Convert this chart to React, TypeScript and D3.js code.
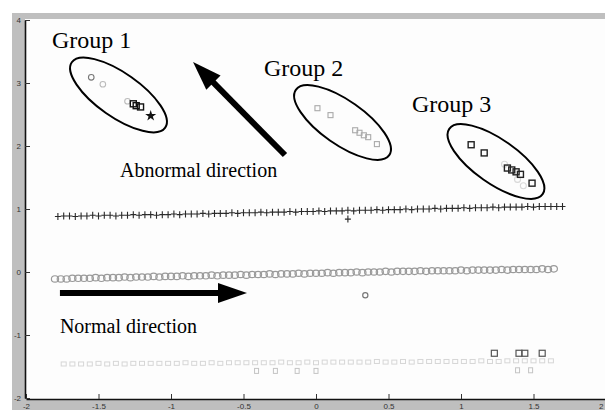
import React, { useEffect, useRef } from 'react'
import * as d3 from 'd3'

const WIDTH = 605
const HEIGHT = 410

const xTicks = [-2, -1.5, -1, -0.5, 0, 0.5, 1, 1.5, 2]
const yTicks = [-2, -1, 0, 1, 2, 3, 4]

// upper track, "+" markers
const plusTrack: [number, number][] = [
  [-1.78, 0.88], [-1.74, 0.89], [-1.7, 0.89], [-1.66, 0.88], [-1.62, 0.89], [-1.58, 0.89], [-1.54, 0.9], [-1.5, 0.89],
  [-1.46, 0.9], [-1.42, 0.9], [-1.38, 0.89], [-1.34, 0.9], [-1.3, 0.9], [-1.26, 0.91], [-1.22, 0.9], [-1.18, 0.91],
  [-1.14, 0.91], [-1.1, 0.9], [-1.06, 0.91], [-1.02, 0.91], [-0.98, 0.92], [-0.94, 0.91], [-0.9, 0.92], [-0.86, 0.92],
  [-0.82, 0.92], [-0.78, 0.93], [-0.74, 0.92], [-0.7, 0.93], [-0.66, 0.93], [-0.62, 0.93], [-0.58, 0.94], [-0.54, 0.93],
  [-0.5, 0.94], [-0.46, 0.94], [-0.42, 0.94], [-0.38, 0.95], [-0.34, 0.94], [-0.3, 0.95], [-0.26, 0.95], [-0.22, 0.95],
  [-0.18, 0.96], [-0.14, 0.95], [-0.1, 0.96], [-0.06, 0.96], [-0.02, 0.96], [0.02, 0.97], [0.06, 0.96], [0.1, 0.97],
  [0.14, 0.97], [0.18, 0.97], [0.22, 0.98], [0.26, 0.97], [0.3, 0.98], [0.34, 0.98], [0.38, 0.98], [0.42, 0.99],
  [0.46, 0.98], [0.5, 0.99], [0.54, 0.99], [0.58, 0.99], [0.62, 1.0], [0.66, 0.99], [0.7, 1.0], [0.74, 1.0],
  [0.78, 1.0], [0.82, 1.01], [0.86, 1.0], [0.9, 1.01], [0.94, 1.01], [0.98, 1.01], [1.02, 1.02], [1.06, 1.01],
  [1.1, 1.02], [1.14, 1.02], [1.18, 1.02], [1.22, 1.03], [1.26, 1.02], [1.3, 1.03], [1.34, 1.03], [1.38, 1.03],
  [1.42, 1.03], [1.46, 1.04], [1.5, 1.03], [1.54, 1.04], [1.58, 1.04], [1.62, 1.04], [1.66, 1.04], [1.7, 1.04],
]
const strayPlus: [number, number][] = [[0.22, 0.84]]

// middle track, gray circles
const circleTrack: [number, number][] = [
  [-1.8, -0.11], [-1.76, -0.11], [-1.72, -0.11], [-1.68, -0.1], [-1.64, -0.1], [-1.6, -0.1], [-1.56, -0.1], [-1.52, -0.09],
  [-1.48, -0.1], [-1.44, -0.09], [-1.4, -0.09], [-1.36, -0.09], [-1.32, -0.08], [-1.28, -0.09], [-1.24, -0.08], [-1.2, -0.08],
  [-1.16, -0.08], [-1.12, -0.07], [-1.08, -0.08], [-1.04, -0.07], [-1.0, -0.07], [-0.96, -0.07], [-0.92, -0.06], [-0.88, -0.07],
  [-0.84, -0.06], [-0.8, -0.06], [-0.76, -0.06], [-0.72, -0.05], [-0.68, -0.06], [-0.64, -0.05], [-0.6, -0.05], [-0.56, -0.05],
  [-0.52, -0.04], [-0.48, -0.05], [-0.44, -0.04], [-0.4, -0.04], [-0.36, -0.04], [-0.32, -0.03], [-0.28, -0.04], [-0.24, -0.03],
  [-0.2, -0.03], [-0.16, -0.03], [-0.12, -0.02], [-0.08, -0.03], [-0.04, -0.02], [0.0, -0.02], [0.04, -0.02], [0.08, -0.01],
  [0.12, -0.02], [0.16, -0.01], [0.2, -0.01], [0.24, -0.01], [0.28, 0.0], [0.32, -0.01], [0.36, 0.0], [0.4, 0.0],
  [0.44, 0.0], [0.48, 0.01], [0.52, 0.0], [0.56, 0.01], [0.6, 0.01], [0.64, 0.01], [0.68, 0.01], [0.72, 0.02],
  [0.76, 0.01], [0.8, 0.02], [0.84, 0.02], [0.88, 0.02], [0.92, 0.02], [0.96, 0.02], [1.0, 0.03], [1.04, 0.02],
  [1.08, 0.03], [1.12, 0.03], [1.16, 0.03], [1.2, 0.03], [1.24, 0.03], [1.28, 0.04], [1.32, 0.03], [1.36, 0.04],
  [1.4, 0.04], [1.44, 0.04], [1.48, 0.04], [1.52, 0.04], [1.56, 0.05], [1.6, 0.04], [1.64, 0.05],
]

// lower track, faint squares
const squareTrack: [number, number][] = [
  [-1.74, -1.46], [-1.68, -1.46], [-1.62, -1.46], [-1.56, -1.46], [-1.5, -1.45], [-1.44, -1.46], [-1.38, -1.45], [-1.32, -1.46],
  [-1.26, -1.45], [-1.2, -1.45], [-1.14, -1.45], [-1.08, -1.45], [-1.02, -1.45], [-0.96, -1.45], [-0.9, -1.44], [-0.84, -1.45],
  [-0.78, -1.45], [-0.72, -1.44], [-0.66, -1.45], [-0.6, -1.44], [-0.54, -1.44], [-0.48, -1.44], [-0.42, -1.44], [-0.36, -1.44],
  [-0.3, -1.44], [-0.24, -1.43], [-0.18, -1.44], [-0.12, -1.44], [-0.06, -1.43], [0.0, -1.44], [0.06, -1.43], [0.12, -1.43],
  [0.18, -1.43], [0.24, -1.43], [0.3, -1.43], [0.36, -1.43], [0.42, -1.42], [0.48, -1.43], [0.54, -1.43], [0.6, -1.42],
  [0.66, -1.43], [0.72, -1.42], [0.78, -1.42], [0.84, -1.42], [0.9, -1.42], [0.96, -1.42], [1.02, -1.42], [1.08, -1.42],
  [1.14, -1.41], [1.2, -1.42], [1.26, -1.42], [1.32, -1.41], [1.38, -1.41], [1.44, -1.41], [1.5, -1.41], [1.56, -1.41],
  [1.62, -1.41],
]

// abnormal groups
const group1Gray: [number, number][] = [[-1.55, 3.09], [-1.47, 2.98], [-1.3, 2.71]]
const group1Black: [number, number][] = [[-1.26, 2.67], [-1.24, 2.64], [-1.21, 2.62]]
const group1Star: [number, number][] = [[-1.14, 2.48]]
const group2Points: [number, number][] = [[0.01, 2.6], [0.1, 2.49], [0.27, 2.25], [0.3, 2.21], [0.33, 2.17], [0.36, 2.14], [0.42, 2.03]]
const group3Squares: [number, number][] = [[1.07, 2.02], [1.16, 1.89], [1.32, 1.65], [1.35, 1.62], [1.38, 1.59], [1.41, 1.55], [1.49, 1.41]]
const group3Faint: [number, number][] = [[1.3, 1.71], [1.39, 1.47], [1.43, 1.37]]

// points near the lower tracks
const lowCircle: [number, number][] = [[0.34, -0.37]]
const lowSquares: [number, number][] = [[1.23, -1.29], [1.4, -1.29], [1.44, -1.29], [1.56, -1.29]]
const lowFaint: [number, number][] = [[-0.41, -1.57], [-0.28, -1.57], [-0.13, -1.57], [0.0, -1.57], [1.39, -1.56], [1.48, -1.56]]

// annotations (data coordinates)
const groupEllipses = [
  { cx: -1.362, cy: 2.81 },
  { cx: 0.183, cy: 2.373 },
  { cx: 1.241, cy: 1.754 },
]
const groupLabels = [
  { text: 'Group 1', x: -1.821, y: 3.556 },
  { text: 'Group 2', x: -0.359, y: 3.111 },
  { text: 'Group 3', x: 0.662, y: 2.54 },
]
const directionLabels = [
  { text: 'Abnormal direction', x: -1.352, y: 1.508 },
  { text: 'Normal direction', x: -1.766, y: -0.968 },
]
const arrows = [
  { from: [-0.214, 1.857], to: [-0.848, 3.333] },
  { from: [-1.766, -0.333], to: [-0.476, -0.333] },
]

const x = d3.scaleLinear().domain([-2, 2]).range([26, 606])
const y = d3.scaleLinear().domain([-2, 4]).range([398, 20])

const plusPath = (s: number) => `M${-s},0H${s}M0,${-s - 0.5}V${s + 0.5}`
const starPath = d3.symbol(d3.symbolStar, 38)()

function Arrow({ from, to }: { from: number[]; to: number[] }) {
  const x0 = x(from[0])
  const y0 = y(from[1])
  const x1 = x(to[0])
  const y1 = y(to[1])
  const len = Math.hypot(x1 - x0, y1 - y0)
  const ux = (x1 - x0) / len
  const uy = (y1 - y0) / len
  const headLen = 29
  const headHalf = 10
  const bx = x1 - ux * headLen
  const by = y1 - uy * headLen
  const head = [
    [x1, y1],
    [bx - uy * headHalf, by + ux * headHalf],
    [bx + uy * headHalf, by - ux * headHalf],
  ]
  return (
    <g>
      <line x1={x0} y1={y0} x2={bx + ux * 2} y2={by + uy * 2} stroke="#000" strokeWidth={6} />
      <polygon points={head.map((p) => p.join(',')).join(' ')} fill="#000" />
    </g>
  )
}

function Axes() {
  const ref = useRef<SVGGElement>(null)
  useEffect(() => {
    const g = d3.select(ref.current)
    g.selectAll('*').remove()
    const xAxis = d3.axisBottom(x).tickValues(xTicks).tickSizeInner(-5).tickSizeOuter(0).tickPadding(4)
      .tickFormat((d) => String(d))
    const yAxis = d3.axisLeft(y).tickValues(yTicks).tickSizeInner(-5).tickSizeOuter(0).tickPadding(4)
      .tickFormat((d) => String(d))
    const gx = g.append('g').attr('transform', 'translate(0, 399)').call(xAxis)
    const gy = g.append('g').attr('transform', 'translate(25, 0)').call(yAxis)
    for (const a of [gx, gy]) {
      a.select('.domain').attr('stroke', '#111').attr('stroke-width', 1.6)
      a.selectAll('.tick line').attr('stroke', '#333')
      a.selectAll('.tick text')
        .attr('fill', '#333')
        .style('font-family', '"Liberation Sans", Arial, sans-serif')
        .style('font-size', '8px')
    }
    // last x label sits at the right edge: keep it inside the picture
    gx.selectAll<SVGTextElement, number>('.tick text')
      .filter((d) => d === 2)
      .attr('text-anchor', 'end')
      .attr('x', -3)
  }, [])
  return <g ref={ref} />
}

export default function App() {
  return (
    <div style={{ position: 'absolute', left: 0, top: 0 }}>
      <style>{'body{margin:0}'}</style>
      <svg width={WIDTH} height={HEIGHT} style={{ display: 'block' }}>
        <rect width={WIDTH} height={HEIGHT} fill="#fff" />
        <rect x={12} y={13} width={WIDTH - 12} height={HEIGHT - 13} fill="#bfbfbf" />
        <rect x={25} y={19} width={WIDTH - 25} height={380} fill="#fdfdfd" />

        {/* lower faint track */}
        <g fill="none" stroke="#d6d6d6" strokeWidth={1}>
          {squareTrack.map((d, i) => (
            <rect key={i} x={x(d[0]) - 2.5} y={y(d[1]) - 2} width={5} height={4} />
          ))}
          {lowFaint.map((d, i) => (
            <rect key={i} x={x(d[0]) - 2} y={y(d[1]) - 2.5} width={4} height={5} stroke="#c4c4c4" />
          ))}
        </g>
        <g fill="none" stroke="#555" strokeWidth={1.2}>
          {lowSquares.map((d, i) => (
            <rect key={i} x={x(d[0]) - 3} y={y(d[1]) - 3} width={6} height={6} />
          ))}
        </g>

        {/* middle track */}
        <g fill="none" stroke="#9a9a9a" strokeWidth={1.2}>
          {circleTrack.map((d, i) => (
            <ellipse key={i} cx={x(d[0])} cy={y(d[1])} rx={3.6} ry={3.2} />
          ))}
          {lowCircle.map((d, i) => (
            <circle key={i} cx={x(d[0])} cy={y(d[1])} r={2.6} stroke="#777" />
          ))}
        </g>

        {/* upper track */}
        <g fill="none" stroke="#2a2a2a" strokeWidth={1.1}>
          {plusTrack.concat(strayPlus).map((d, i) => (
            <path key={i} d={plusPath(3)} transform={`translate(${x(d[0])},${y(d[1])})`} />
          ))}
        </g>

        {/* groups */}
        <g fill="none" strokeWidth={1.1}>
          {group1Gray.map((d, i) => (
            <circle key={i} cx={x(d[0])} cy={y(d[1])} r={2.8} stroke={i === 0 ? '#777' : '#bbb'} />
          ))}
          {group1Black.map((d, i) => (
            <rect key={i} x={x(d[0]) - 3} y={y(d[1]) - 3} width={6} height={6} stroke="#111" strokeWidth={1.4} />
          ))}
          {group2Points.map((d, i) => (
            <rect key={i} x={x(d[0]) - 2.5} y={y(d[1]) - 2.5} width={5} height={5} stroke="#aaa" />
          ))}
          {group3Faint.map((d, i) => (
            <circle key={i} cx={x(d[0])} cy={y(d[1])} r={3} stroke="#d8d8d8" />
          ))}
          {group3Squares.map((d, i) => (
            <rect key={i} x={x(d[0]) - 3} y={y(d[1]) - 3} width={6} height={6} stroke="#222" strokeWidth={1.4} />
          ))}
        </g>
        {group1Star.map((d, i) => (
          <path key={i} d={starPath ?? ''} transform={`translate(${x(d[0])},${y(d[1])})`} fill="#111" />
        ))}

        {/* ellipses */}
        <g fill="none" stroke="#000" strokeWidth={2}>
          {groupEllipses.map((e, i) => (
            <ellipse key={i} rx={57} ry={22} transform={`translate(${x(e.cx)},${y(e.cy)}) rotate(35)`} />
          ))}
        </g>

        {arrows.map((a, i) => (
          <Arrow key={i} from={a.from} to={a.to} />
        ))}

        <g fontFamily='"Liberation Serif", "Times New Roman", serif' fill="#000">
          {groupLabels.map((t) => (
            <text key={t.text} x={x(t.x)} y={y(t.y)} fontSize={24}>{t.text}</text>
          ))}
          {directionLabels.map((t) => (
            <text key={t.text} x={x(t.x)} y={y(t.y)} fontSize={20}>{t.text}</text>
          ))}
        </g>

        <Axes />
      </svg>
    </div>
  )
}
